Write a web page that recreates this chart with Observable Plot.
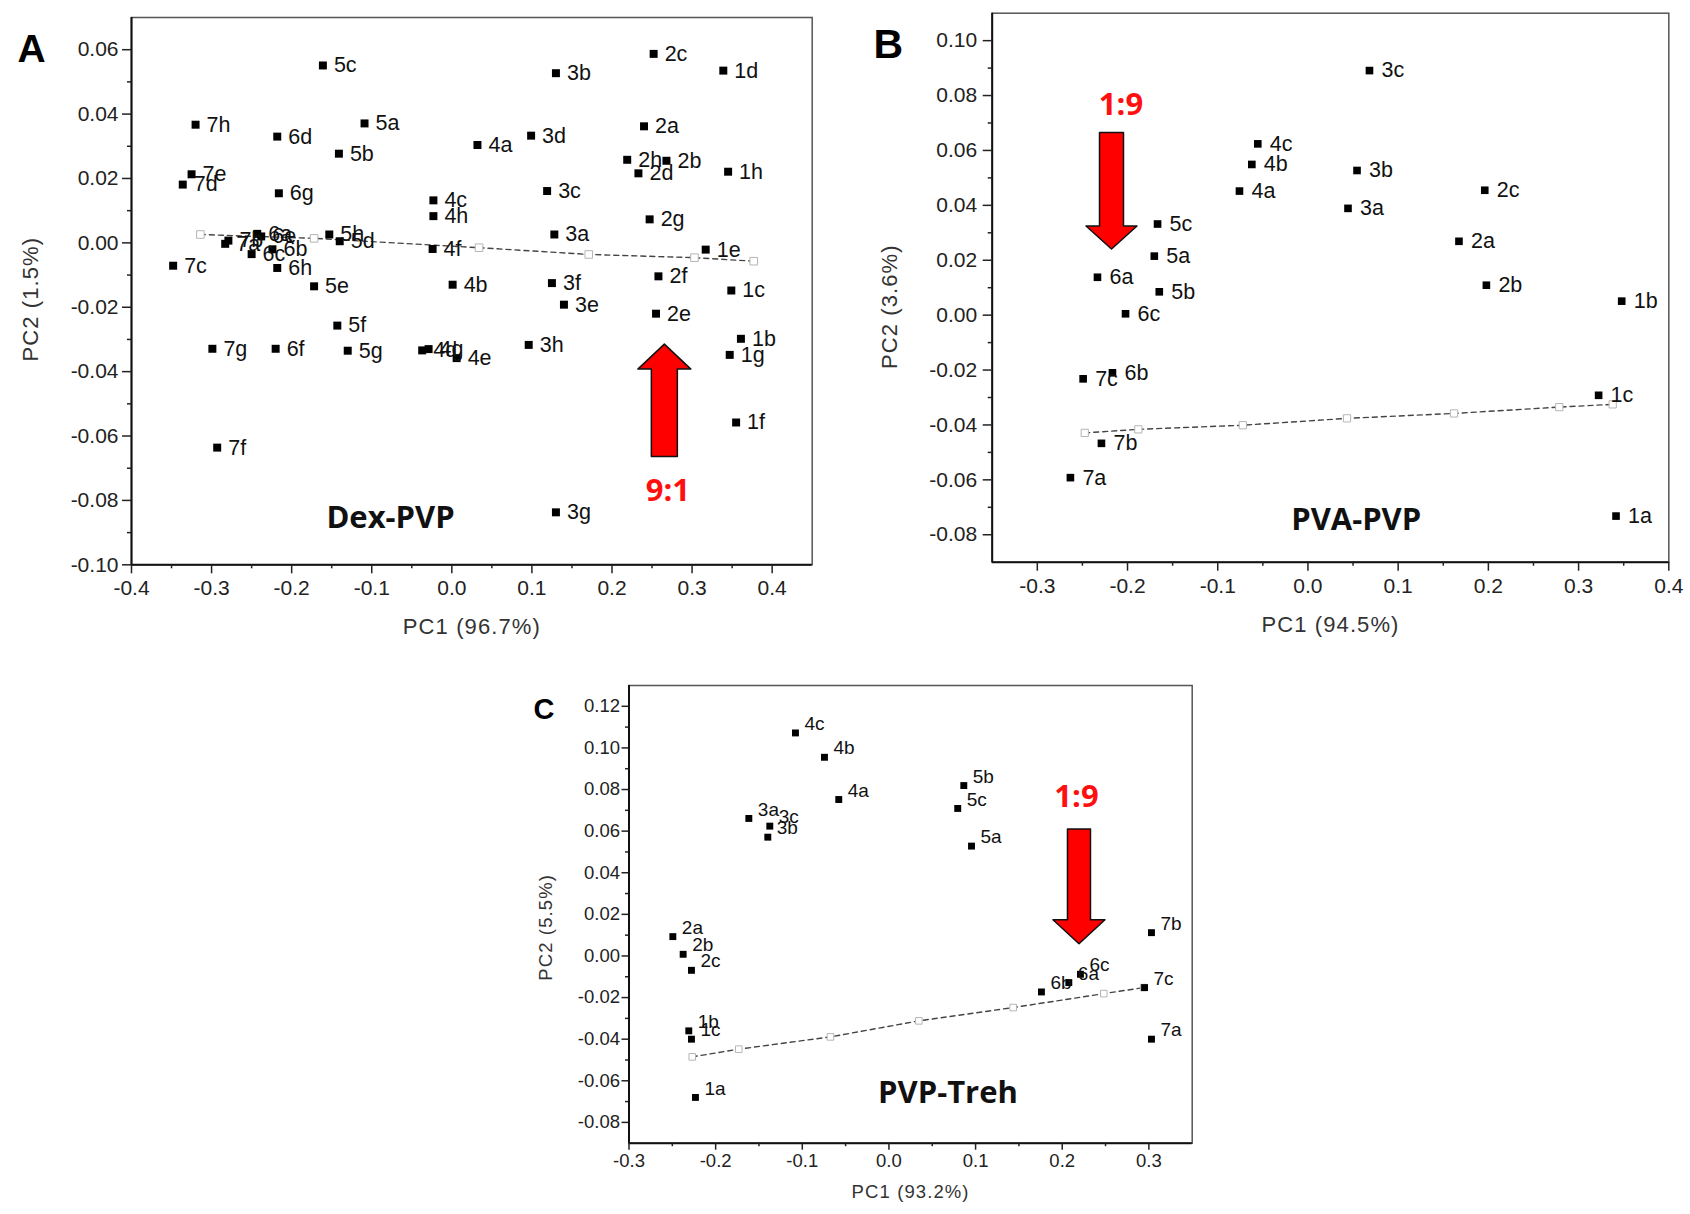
<!DOCTYPE html>
<html>
<head>
<meta charset="utf-8">
<script src="https://cdn.jsdelivr.net/npm/d3@7"></script>
<script src="https://cdn.jsdelivr.net/npm/@observablehq/plot@0.6"></script>
<style>
  html, body { margin: 0; padding: 0; background: #fff; }
  #root { position: relative; width: 1690px; height: 1214px; overflow: hidden; background: #fff; }
  .panel { position: absolute; }
  .panel svg { overflow: visible; }
</style>
</head>
<body>
<div id="root"></div>
<script>
// ---------------- DATA ----------------
// Panel A: Dex-PVP
const labelsA = ["1b","1c","1d","1e","1f","1g","1h",
  "2a","2b","2c","2d","2e","2f","2g","2h",
  "3a","3b","3c","3d","3e","3f","3g","3h",
  "4a","4b","4c","4d","4e","4f","4g","4h",
  "5a","5b","5c","5d","5e","5f","5g","5h",
  "6a","6b","6c","6d","6e","6f","6g","6h",
  "7a","7b","7c","7d","7e","7f","7g","7h"];
const pc1A = [0.361,0.349,0.339,0.317,0.355,0.347,0.345,
  0.240,0.268,0.252,0.233,0.255,0.258,0.247,0.219,
  0.128,0.130,0.119,0.099,0.140,0.125,0.130,0.096,
  0.032,0.001,-0.023,-0.037,0.006,-0.024,-0.029,-0.023,
  -0.109,-0.141,-0.161,-0.140,-0.172,-0.143,-0.130,-0.153,
  -0.243,-0.224,-0.250,-0.218,-0.238,-0.220,-0.216,-0.218,
  -0.283,-0.279,-0.348,-0.336,-0.325,-0.293,-0.299,-0.320];
const pc2A = [-0.0298,-0.0148,0.0535,-0.0021,-0.0558,-0.0348,0.0221,
  0.0362,0.0255,0.0587,0.0216,-0.0220,-0.0104,0.0073,0.0258,
  0.0026,0.0527,0.0161,0.0333,-0.0192,-0.0125,-0.0837,-0.0317,
  0.0304,-0.0130,0.0132,-0.0334,-0.0358,-0.0019,-0.0330,0.0083,
  0.0371,0.0277,0.0551,0.0005,-0.0135,-0.0257,-0.0335,0.0026,
  0.0028,-0.0020,-0.0035,0.0330,0.0020,-0.0329,0.0154,-0.0078,
  -0.0003,0.0007,-0.0071,0.0181,0.0213,-0.0636,-0.0329,0.0367];
const trendPc1A = [-0.314,-0.172,0.034,0.171,0.303,0.377];
const trendPc2A = [0.0026,0.0014,-0.0015,-0.0036,-0.0046,-0.0057];

// Panel B: PVA-PVP
const labelsB = ["1a","1b","1c","2a","2b","2c","3a","3b","3c","4a","4b","4c","5a","5b","5c","6a","6b","6c","7a","7b","7c"];
const pc1B = [0.3415,0.3478,0.3222,0.1674,0.1978,0.1960,0.0444,0.0544,0.0682,-0.0759,-0.0622,-0.0556,-0.1703,-0.1648,-0.1667,-0.2333,-0.2167,-0.2022,-0.2633,-0.2289,-0.2492];
const pc2B = [-0.0732,0.0051,-0.0292,0.0269,0.0109,0.0455,0.0389,0.0527,0.0891,0.0452,0.0549,0.0624,0.0215,0.0085,0.0332,0.0138,-0.0210,0.0005,-0.0592,-0.0467,-0.0232];
const trendPc1B = [-0.2474,-0.188,-0.0722,0.0433,0.1619,0.2786,0.3378];
const trendPc2B = [-0.0429,-0.0416,-0.0401,-0.0376,-0.0358,-0.0335,-0.0325];

// Panel C: PVP-Treh
const labelsC = ["1a","1b","1c","2a","2b","2c","3a","3b","3c","4a","4b","4c","5a","5b","5c","6a","6b","6c","7a","7b","7c"];
const pc1C = [-0.2233,-0.2310,-0.2279,-0.2494,-0.2375,-0.2279,-0.1617,-0.1398,-0.1375,-0.0579,-0.0744,-0.1079,0.0953,0.0864,0.0794,0.2076,0.1760,0.2210,0.3030,0.3030,0.2950];
const pc2C = [-0.0680,-0.0360,-0.0400,0.0093,0.0008,-0.0069,0.0661,0.0571,0.0624,0.0752,0.0955,0.1072,0.0528,0.0819,0.0709,-0.0128,-0.0173,-0.0088,-0.0400,0.0112,-0.0152];
const trendPc1C = [-0.227,-0.1733,-0.0675,0.0345,0.1434,0.248,0.294];
const trendPc2C = [-0.0485,-0.0448,-0.0389,-0.0312,-0.0248,-0.0181,-0.0152];

// Annotations
const panelLetters = ["A","B","C"];
const panelTitles = ["Dex-PVP","PVA-PVP","PVP-Treh"];
const xAxisTitles = ["PC1 (96.7%)","PC1 (94.5%)","PC1 (93.2%)"];
const yAxisTitles = ["PC2 (1.5%)","PC2 (3.6%)","PC2 (5.5%)"];
const ratioLabels = ["9:1","1:9","1:9"];
const arrowPc1 = [0.266,-0.2172,0.2199];
const arrowTailPc2 = [-0.0665,0.0664,0.0608];
const arrowTipPc2 = [-0.0316,0.0239,0.0056];

// Tick values
const xTicksA = [-0.4,-0.3,-0.2,-0.1,0,0.1,0.2,0.3,0.4];
const xMinorA = [-0.35,-0.25,-0.15,-0.05,0.05,0.15,0.25,0.35];
const yTicksA = [-0.10,-0.08,-0.06,-0.04,-0.02,0,0.02,0.04,0.06];
const yMinorA = [-0.09,-0.07,-0.05,-0.03,-0.01,0.01,0.03,0.05];
const xTicksB = [-0.3,-0.2,-0.1,0,0.1,0.2,0.3,0.4];
const xMinorB = [-0.25,-0.15,-0.05,0.05,0.15,0.25,0.35];
const yTicksB = [-0.08,-0.06,-0.04,-0.02,0,0.02,0.04,0.06,0.08,0.10];
const yMinorB = [-0.07,-0.05,-0.03,-0.01,0.01,0.03,0.05,0.07,0.09];
const xTicksC = [-0.3,-0.2,-0.1,0,0.1,0.2,0.3];
const xMinorC = [-0.25,-0.15,-0.05,0.05,0.15,0.25];
const yTicksC = [-0.08,-0.06,-0.04,-0.02,0,0.02,0.04,0.06,0.08,0.10,0.12];
const yMinorC = [-0.07,-0.05,-0.03,-0.01,0.01,0.03,0.05,0.07,0.09,0.11];

// ---------------- LAYOUT / STYLE ----------------
const SANS = "'Liberation Sans', Arial, Helvetica, sans-serif";
const BOLD = "'Open Sans', 'Liberation Sans', Arial, sans-serif";

const panels = [
  { labels: labelsA, pc1: pc1A, pc2: pc2A, tx: trendPc1A, ty: trendPc2A,
    xTicks: xTicksA, xMinor: xMinorA, yTicks: yTicksA, yMinor: yMinorA,
    left: 0, top: 0, width: 840, height: 660, mt: 17, mr: 28.3, mb: 95.7, ml: 131,
    xDom: [-0.4, 0.45], yDom: [-0.10, 0.07],
    tickFont: 21, labelFont: 21.5, ptR: 4.5, labelDx: 11, labelDy: 0,
    majorTick: 9, minorTick: 4, tickPadY: 4, tickPadX: 6,
    arrow: { shaft: 26, head: 53, headLen: 25 }, ratioDx: 3, ratioDy: 34,
    letter: { dx: -100, dy: 17, size: 39 }, title: { dx: 259, dy: -37 },
    xTitle: { dy: 69, size: 22 }, yTitle: { dx: -101, dy: 8, size: 22 } },
  { labels: labelsB, pc1: pc1B, pc2: pc2B, tx: trendPc1B, ty: trendPc2B,
    xTicks: xTicksB, xMinor: xMinorB, yTicks: yTicksB, yMinor: yMinorB,
    left: 840, top: 0, width: 850, height: 660, mt: 12.7, mr: 21.7, mb: 98.3, ml: 151.7,
    xDom: [-0.35, 0.40], yDom: [-0.09, 0.11],
    tickFont: 21, labelFont: 21.5, ptR: 4.3, labelDx: 12, labelDy: 0,
    majorTick: 9, minorTick: 4, tickPadY: 6, tickPadX: 7,
    arrow: { shaft: 24, head: 51, headLen: 23 }, ratioDx: 9, ratioDy: -28,
    letter: { dx: -104, dy: 16, size: 41 }, title: { dx: 364, dy: -32 },
    xTitle: { dy: 70, size: 22 }, yTitle: { dx: -102, dy: 19, size: 22 } },
  { labels: labelsC, pc1: pc1C, pc2: pc2C, tx: trendPc1C, ty: trendPc2C,
    xTicks: xTicksC, xMinor: xMinorC, yTicks: yTicksC, yMinor: yMinorC,
    left: 440, top: 660, width: 800, height: 554, mt: 25, mr: 48.3, mb: 71.3, ml: 188.5,
    xDom: [-0.30, 0.35], yDom: [-0.09, 0.13],
    tickFont: 18.5, labelFont: 19, ptR: 3.9, labelDx: 9, labelDy: -9,
    majorTick: 7, minorTick: 3.5, tickPadY: 2, tickPadX: 4,
    arrow: { shaft: 23, head: 52, headLen: 24 }, ratioDx: -3, ratioDy: -32,
    letter: { dx: -85, dy: 13, size: 29 }, title: { dx: 319, dy: -40 },
    xTitle: { dy: 55, size: 18.5 }, yTitle: { dx: -83, dy: 13, size: 18.5 } }
];

const root = document.getElementById("root");

panels.forEach((p, i) => {
  const pts = p.labels.map((t, j) => ({ t, x: p.pc1[j], y: p.pc2[j] }));
  const trend = p.tx.map((x, j) => ({ x, y: p.ty[j] }));
  const innerW = p.width - p.ml - p.mr, innerH = p.height - p.mt - p.mb;
  const kx = (p.xDom[1] - p.xDom[0]) / innerW;   // data per pixel
  const ky = (p.yDom[1] - p.yDom[0]) / innerH;
  const cx = arrowPc1[i], tail = arrowTailPc2[i], tip = arrowTipPc2[i];
  const dir = Math.sign(tip - tail);
  const hb = tip - dir * p.arrow.headLen * ky;
  const s = p.arrow.shaft / 2 * kx, h = p.arrow.head / 2 * kx;
  const arrowPoly = [
    { y: tail, x1: cx - s, x2: cx + s },
    { y: hb, x1: cx - s, x2: cx + s },
    { y: hb, x1: cx - h, x2: cx + h },
    { y: tip, x1: cx, x2: cx }
  ];
  const fmtY = d => d.toFixed(2);
  const fmtX = d => d.toFixed(1);

  const chart = Plot.plot({
    width: p.width, height: p.height,
    marginTop: p.mt, marginRight: p.mr, marginBottom: p.mb, marginLeft: p.ml,
    style: { fontFamily: SANS, background: "transparent", overflow: "visible" },
    x: { domain: p.xDom, nice: false },
    y: { domain: p.yDom, nice: false },
    marks: [
      Plot.frame({ stroke: "#555", strokeWidth: 1.5 }),
      Plot.ruleX([p.xDom[0]], { stroke: "#111", strokeWidth: 2 }),
      Plot.ruleY([p.yDom[0]], { stroke: "#111", strokeWidth: 2 }),
      Plot.axisY(p.yTicks, { tickSize: p.majorTick, tickPadding: p.tickPadY, tickFormat: fmtY, fontSize: p.tickFont, label: null, color: "#222", strokeWidth: 1.5 }),
      Plot.axisY(p.yMinor, { tickSize: p.minorTick, tickFormat: () => "", label: null, color: "#222", strokeWidth: 1.5 }),
      Plot.axisX(p.xTicks, { tickSize: p.majorTick, tickPadding: p.tickPadX, tickFormat: fmtX, fontSize: p.tickFont, label: null, color: "#222", strokeWidth: 1.5 }),
      Plot.axisX(p.xMinor, { tickSize: p.minorTick, tickFormat: () => "", label: null, color: "#222", strokeWidth: 1.5 }),
      // dashed trajectory with open squares
      Plot.line(trend, { x: "x", y: "y", stroke: "#444", strokeWidth: 1.4, strokeDasharray: "5,4" }),
      Plot.dot(trend, { x: "x", y: "y", symbol: "square", r: p.ptR * 0.95, stroke: "#b5b5b5", strokeWidth: 1, fill: "#fff" }),
      // data points
      Plot.dot(pts, { x: "x", y: "y", symbol: "square", r: p.ptR, fill: "#000", stroke: "none" }),
      Plot.text(pts, { x: "x", y: "y", text: "t", dx: p.labelDx, dy: p.labelDy, textAnchor: "start", fontSize: p.labelFont, fill: "#111" }),
      // red block arrow
      Plot.areaX(arrowPoly, { y: "y", x1: "x1", x2: "x2", fill: "#ff0000", stroke: "#111", strokeWidth: 1.5, curve: "linear" }),
      Plot.text([{ x: cx, y: tail, t: ratioLabels[i] }], { x: "x", y: "y", text: "t", dx: p.ratioDx, dy: p.ratioDy, fill: "#ff1010", fontFamily: BOLD, fontWeight: 700, fontSize: 31, textAnchor: "middle" }),
      // panel title
      Plot.text([panelTitles[i]], { text: d => d, frameAnchor: "bottom-left", dx: p.title.dx, dy: p.title.dy, textAnchor: "middle", fontFamily: BOLD, fontWeight: 700, fontSize: 31, fill: "#111" }),
      // panel letter
      Plot.text([panelLetters[i]], { text: d => d, frameAnchor: "top-left", dx: p.letter.dx, dy: p.letter.dy, textAnchor: "middle", fontFamily: SANS, fontWeight: 700, fontSize: p.letter.size, fill: "#000" }),
      // axis titles
      Plot.text([xAxisTitles[i]], { text: d => d, frameAnchor: "bottom", dy: p.xTitle.dy, textAnchor: "middle", fontSize: p.xTitle.size, fill: "#333" }),
      Plot.text([yAxisTitles[i]], { text: d => d, frameAnchor: "left", dx: p.yTitle.dx, dy: p.yTitle.dy, rotate: -90, textAnchor: "middle", fontSize: p.yTitle.size, fill: "#333" })
    ]
  });
  const wrap = document.createElement("div");
  wrap.className = "panel";
  wrap.style.left = p.left + "px";
  wrap.style.top = p.top + "px";
  wrap.appendChild(chart);
  root.appendChild(wrap);
  // slight letter spacing on the axis titles, as in the reference
  chart.querySelectorAll("text").forEach(t => {
    if (/^PC\d/.test(t.textContent)) t.style.letterSpacing = "1.1px";
  });
});
</script>
</body>
</html>
